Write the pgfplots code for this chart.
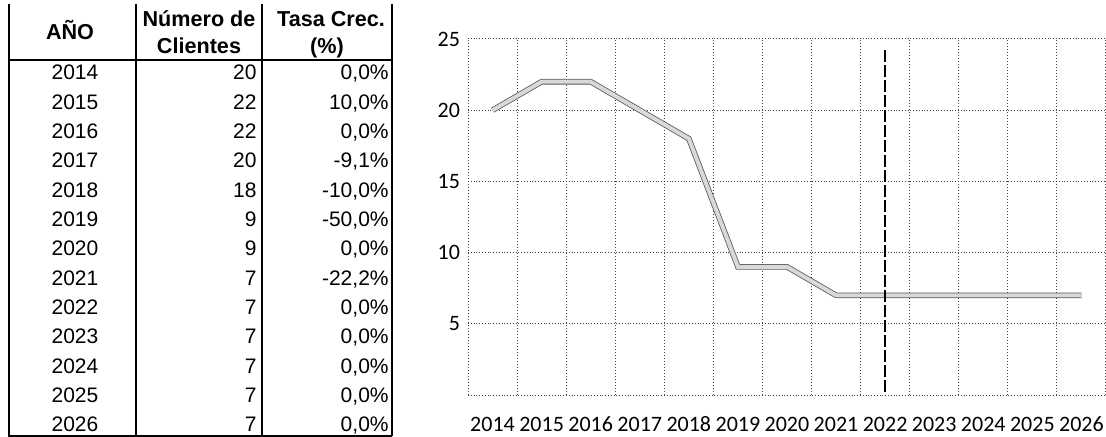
\documentclass[border=0pt]{standalone}
\usepackage{fontspec}
\setmainfont{Liberation Sans}
\newfontfamily\calibri{Carlito}
\usepackage{pgfplots}
\pgfplotsset{compat=1.18}
\usepackage{pgfplotstable}
\pgfplotstableread{
year clients
2014 20
2015 22
2016 22
2017 20
2018 18
2019 9
2020 9
2021 7
2022 7
2023 7
2024 7
2025 7
2026 7
}\clientes
\begin{document}
\begin{tikzpicture}
\path[use as bounding box] (0,0) rectangle (553pt,-218.5pt);
\begin{scope}[x=0.5pt,y=-0.5pt]
  \draw[line width=0.8pt] (9,4) -- (9,436) -- (392,436);
  \draw[line width=0.8pt] (136,4) -- (136,436);
  \draw[line width=0.8pt] (262,4) -- (262,436);
  \draw[line width=0.8pt] (392,4) -- (392,436);
  \draw[line width=1pt] (9,60) -- (392,60);
  \begin{scope}[every node/.style={font=\bfseries\fontsize{10.8}{13}\selectfont, inner sep=0pt}]
    \node[anchor=base] at (70,40) {AÑO};
    \node[anchor=base] at (199,27) {Número de};
    \node[anchor=base] at (199,54) {Clientes};
    \node[anchor=base] at (331,27) {Tasa Crec.};
    \node[anchor=base] at (327,54) {(\%)};
  \end{scope}
  \foreach \yr/\n/\t [count=\i from 0] in {2014/20/{0,0\%},2015/22/{10,0\%},2016/22/{0,0\%},2017/20/{-9,1\%},2018/18/{-10,0\%},2019/9/{-50,0\%},2020/9/{0,0\%},2021/7/{-22,2\%},2022/7/{0,0\%},2023/7/{0,0\%},2024/7/{0,0\%},2025/7/{0,0\%},2026/7/{0,0\%}} {
    \node[anchor=base, inner sep=0pt, font=\fontsize{10.5}{12}\selectfont] at (75,{80+29.3*\i}) {\yr};
    \node[anchor=base east, inner sep=0pt, font=\fontsize{10.5}{12}\selectfont] at (257,{80+29.3*\i}) {\n};
    \node[anchor=base east, inner sep=0pt, font=\fontsize{10.5}{12}\selectfont] at (389,{80+29.3*\i}) {\t};
  }
\end{scope}
\begin{axis}[
  at={(234pt,-197.5pt)}, anchor=south west,
  scale only axis, width=319pt, height=178pt,
  xmin=2013.5, xmax=2026.5, ymin=0, ymax=25,
  axis line style={draw=none},
  tick style={draw=none},
  xtick={2014,...,2026},
  xticklabels={2014,2015,2016,2017,2018,2019,2020,2021,2022,2023,2024,2025,2026},
  minor xtick={2013.5,2014.5,...,2026.5},
  xminorgrids=true,
  ytick={0,5,10,15,20,25},
  yticklabels={,5,10,15,20,25},
  ymajorgrids=true,
  grid style={densely dotted, black!75, line width=0.5pt},
  minor grid style={densely dotted, black!75, line width=0.5pt},
  /pgf/number format/assume math mode=true,
  ticklabel style={font=\calibri\fontsize{11}{13}\selectfont},
  xticklabel style={yshift=-7pt, text height=7.5pt, text depth=0pt},
  yticklabel style={xshift=-0.5pt},
]
\addplot[draw=black!65, line width=0.4pt, double=black!15, double distance=2pt] table[x=year,y=clients] {\clientes};
\draw[black, line width=1pt, dash pattern=on 6pt off 1.5pt] (axis cs:2022,0.2) -- (axis cs:2022,24.2);
\end{axis}
\end{tikzpicture}
\end{document}
